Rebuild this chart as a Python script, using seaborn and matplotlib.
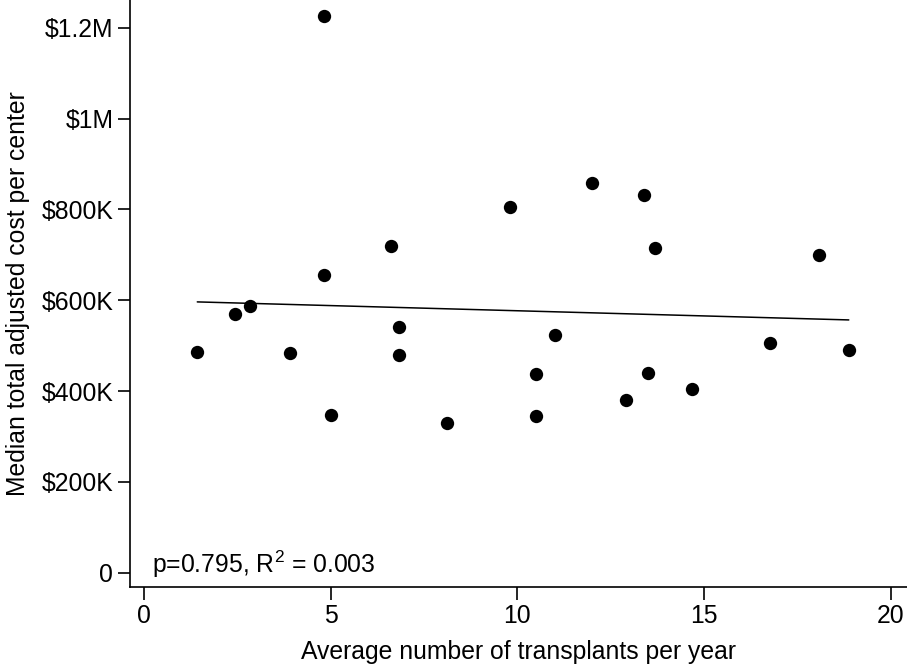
import numpy as np
import pandas as pd
import matplotlib
matplotlib.use("Agg")
import matplotlib.pyplot as plt
import seaborn as sns

# Data
transplants_per_year = [1.42, 2.42, 2.82, 3.91, 4.82, 4.82, 5.01, 6.61, 6.82, 6.82,
                        8.11, 9.81, 10.50, 10.50, 11.00, 12.00, 12.90, 13.40, 13.49,
                        13.69, 14.69, 16.78, 18.09, 18.88]
median_cost = [486800, 570500, 588100, 483900, 1224700, 655700, 347400, 719600,
               541900, 480200, 329100, 804800, 437000, 344500, 524200, 858400,
               381100, 831900, 439900, 715200, 404600, 505300, 699800, 491200]

x_ticks = [0, 5, 10, 15, 20]
y_ticks = [0, 200000, 400000, 600000, 800000, 1000000, 1200000]
y_tick_labels = ["0", "\\$200K", "\\$400K", "\\$600K", "\\$800K", "\\$1M", "\\$1.2M"]
annotation = r"p=0.795, R$^{2}$ = 0.003"
x_label = "Average number of transplants per year"
y_label = "Median total adjusted cost per center"

df = pd.DataFrame({"x": transplants_per_year, "y": median_cost})

sns.set_theme(style="ticks")
plt.rcParams["font.family"] = ["Liberation Sans", "DejaVu Sans"]
plt.rcParams["mathtext.fontset"] = "custom"
plt.rcParams["mathtext.rm"] = "Liberation Sans"
plt.rcParams["mathtext.it"] = "Liberation Sans"

FS = 17.8

fig = plt.figure(figsize=(9.07, 6.65), dpi=100)
ax = fig.add_axes([130 / 907, (665 - 587.3) / 665, (907 - 130) / 907, 587.3 / 665])

sns.regplot(data=df, x="x", y="y", ax=ax, ci=None,
            scatter_kws=dict(s=92, color="black", linewidths=0, alpha=1),
            line_kws=dict(color="black", linewidth=1.1))

ax.set_xlim(-0.383, 20.44)
ax.set_ylim(-32200, 1261000)
ax.set_xticks(x_ticks)
ax.set_yticks(y_ticks)
ax.set_yticklabels(y_tick_labels)

ax.spines["top"].set_visible(False)
ax.spines["right"].set_visible(False)
for s in ["left", "bottom"]:
    ax.spines[s].set_linewidth(1.2)
    ax.spines[s].set_color("black")

ax.tick_params(axis="both", direction="out", length=9, width=1.2, color="black",
               labelsize=FS, labelcolor="black", pad=3)

ax.set_xlabel(x_label, fontsize=FS, color="black", labelpad=9)
ax.set_ylabel(y_label, fontsize=FS, color="black", labelpad=8)

ax.text(0.2, 0, annotation, fontsize=FS, color="black",
        ha="left", va="baseline")

fig.savefig("out.png", dpi=100)
